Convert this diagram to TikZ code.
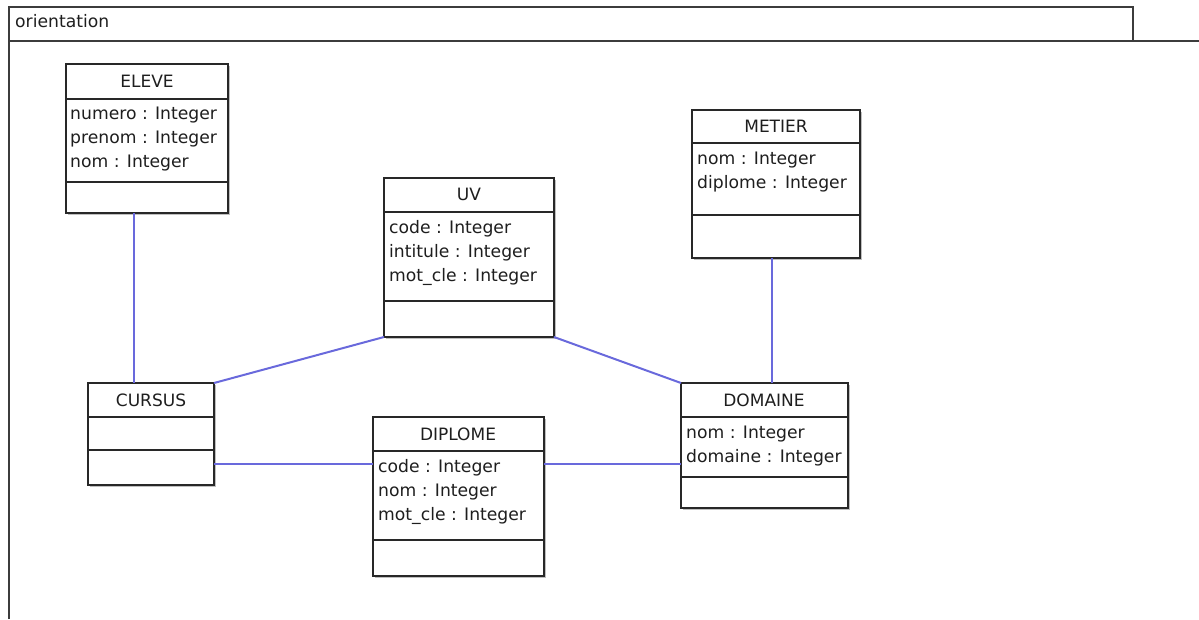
\documentclass[tikz,border=0pt]{standalone}
\usepackage{fontspec}
\setmainfont{DejaVu Sans}
\usetikzlibrary{shadows}

\definecolor{assocblue}{RGB}{105,105,220}
\definecolor{boxgray}{RGB}{40,40,40}
\definecolor{textgray}{RGB}{30,30,30}
\tikzset{
  classbox/.style={draw=boxgray, line width=1.1pt, fill=white, anchor=north west, inner sep=0pt, outer sep=0pt,
    drop shadow={shadow xshift=1.5pt, shadow yshift=-1.5pt, opacity=0.25, fill=black}},
  assoc/.style={draw=assocblue, line width=2pt},
  sepline/.style={draw=boxgray, line width=1.1pt},
  classname/.style={anchor=base, inner sep=0pt, font=\fontsize{17}{24}\selectfont, text=textgray},
  attrib/.style={anchor=base west, inner sep=0pt, font=\fontsize{17.2}{24}\selectfont, text=textgray},
}

\begin{document}
\begin{tikzpicture}[x=1pt,y=1pt,yscale=-1,xscale=1]
    \useasboundingbox (0,0) rectangle (1199,619);

    %Shape: Frame [id:frame]
    \draw [color={rgb, 255:red, 60; green, 60; blue, 60}, line width=1.4pt] (9,619) -- (9,7) -- (1133,7) -- (1133,41) ;
    \draw [color={rgb, 255:red, 60; green, 60; blue, 60}, line width=1.4pt] (9,41) -- (1199,41) ;
    % Text Node
    \node [attrib] (frametitle) at (15,27) {orientation};

    %Shape: Rectangle [id:eleve]
    \node [classbox, minimum width=162pt, minimum height=149pt] (eleve) at (66,64) {};
    \draw [sepline] (eleve.west |- 0,99) -- (eleve.east |- 0,99) ;
    \draw [sepline] (eleve.west |- 0,182) -- (eleve.east |- 0,182) ;
    % Text Node
    \node [classname] (eleveN) at (147,87) {ELEVE};
    \node [attrib] (eleveA1) at (70,119) {numero : Integer};
    \node [attrib] (eleveA2) at (70,143) {prenom : Integer};
    \node [attrib] (eleveA3) at (70,167) {nom : Integer};

    %Shape: Rectangle [id:uv]
    \node [classbox, minimum width=170pt, minimum height=159pt] (uv) at (384,178) {};
    \draw [sepline] (uv.west |- 0,212) -- (uv.east |- 0,212) ;
    \draw [sepline] (uv.west |- 0,301) -- (uv.east |- 0,301) ;
    % Text Node
    \node [classname] (uvN) at (469,200) {UV};
    \node [attrib] (uvA1) at (389,233) {code : Integer};
    \node [attrib] (uvA2) at (389,257) {intitule : Integer};
    \node [attrib] (uvA3) at (389,281) {mot\_cle : Integer};

    %Shape: Rectangle [id:metier]
    \node [classbox, minimum width=168pt, minimum height=148pt] (metier) at (692,110) {};
    \draw [sepline] (metier.west |- 0,143) -- (metier.east |- 0,143) ;
    \draw [sepline] (metier.west |- 0,215) -- (metier.east |- 0,215) ;
    % Text Node
    \node [classname] (metierN) at (776,132) {METIER};
    \node [attrib] (metierA1) at (697,164) {nom : Integer};
    \node [attrib] (metierA2) at (697,188) {diplome : Integer};

    %Shape: Rectangle [id:cursus]
    \node [classbox, minimum width=126pt, minimum height=102pt] (cursus) at (88,383) {};
    \draw [sepline] (cursus.west |- 0,417) -- (cursus.east |- 0,417) ;
    \draw [sepline] (cursus.west |- 0,450) -- (cursus.east |- 0,450) ;
    % Text Node
    \node [classname] (cursusN) at (151,406) {CURSUS};

    %Shape: Rectangle [id:diplome]
    \node [classbox, minimum width=171pt, minimum height=159pt] (diplome) at (373,417) {};
    \draw [sepline] (diplome.west |- 0,451) -- (diplome.east |- 0,451) ;
    \draw [sepline] (diplome.west |- 0,540) -- (diplome.east |- 0,540) ;
    % Text Node
    \node [classname] (diplomeN) at (458,440) {DIPLOME};
    \node [attrib] (diplomeA1) at (378,472) {code : Integer};
    \node [attrib] (diplomeA2) at (378,496) {nom : Integer};
    \node [attrib] (diplomeA3) at (378,520) {mot\_cle : Integer};

    %Shape: Rectangle [id:domaine]
    \node [classbox, minimum width=167pt, minimum height=125pt] (domaine) at (681,383) {};
    \draw [sepline] (domaine.west |- 0,417) -- (domaine.east |- 0,417) ;
    \draw [sepline] (domaine.west |- 0,477) -- (domaine.east |- 0,477) ;
    % Text Node
    \node [classname] (domaineN) at (764,406) {DOMAINE};
    \node [attrib] (domaineA1) at (686,438) {nom : Integer};
    \node [attrib] (domaineA2) at (686,462) {domaine : Integer};

    %Straight Lines [id:assoc]
    \draw [assoc] (eleve.south -| 133.5,0) -- (cursus.north -| 133.5,0) ;
    \draw [assoc] (cursus.north east) -- (uv.south west) ;
    \draw [assoc] (uv.south east) -- (domaine.north west) ;
    \draw [assoc] (metier.south -| 771.5,0) -- (domaine.north -| 771.5,0) ;
    \draw [assoc] (cursus.east |- 0,463.5) -- (diplome.west |- 0,463.5) ;
    \draw [assoc] (diplome.east |- 0,463.5) -- (domaine.west |- 0,463.5) ;

\end{tikzpicture}
\end{document}
